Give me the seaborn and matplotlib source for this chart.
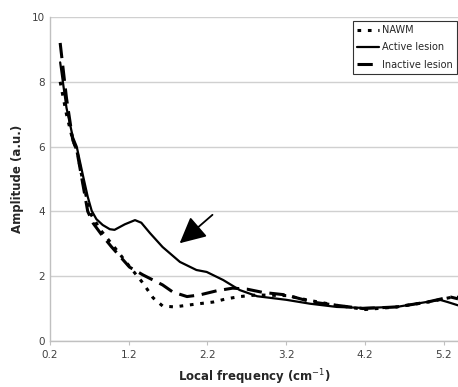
import matplotlib.pyplot as plt
import seaborn as sns
import numpy as np
import pandas as pd

# Values
nawm_x = [0.33, 0.41, 0.49, 0.54, 0.62, 0.71, 0.85, 1.0, 1.21, 1.38, 1.51, 1.63, 1.78,
          2.06, 2.27, 2.44, 2.61, 2.83, 3.2, 3.5, 3.84, 4.2, 4.6, 5.0, 5.3, 5.38]
nawm_y = [8.0, 7.0, 6.2, 5.9, 4.9, 3.95, 3.4, 2.95, 2.3, 1.79, 1.33, 1.08, 1.05,
          1.14, 1.2, 1.3, 1.37, 1.42, 1.4, 1.25, 1.1, 0.97, 1.05, 1.2, 1.35, 1.35]

active_x = [0.33, 0.41, 0.49, 0.54, 0.62, 0.68, 0.73, 0.79, 0.87, 0.96, 1.02, 1.15, 1.28,
            1.36, 1.47, 1.63, 1.85, 2.06, 2.19, 2.4, 2.61, 2.83, 3.2, 3.5, 3.84, 4.17,
            4.6, 4.9, 5.15, 5.25, 5.38]
active_y = [8.6, 7.2, 6.3, 6.0, 5.1, 4.45, 4.02, 3.76, 3.58, 3.45, 3.43, 3.6, 3.73,
            3.65, 3.33, 2.9, 2.44, 2.19, 2.13, 1.88, 1.57, 1.38, 1.27, 1.15, 1.05, 1.02,
            1.05, 1.17, 1.27, 1.2, 1.1]

inactive_x = [0.33, 0.41, 0.49, 0.54, 0.68, 0.75, 0.85, 0.98, 1.21, 1.38, 1.63, 1.76,
              1.94, 2.1, 2.32, 2.52, 2.7, 2.9, 3.2, 3.53, 3.84, 4.17, 4.6, 4.99, 5.28, 5.38]
inactive_y = [9.2, 7.5, 6.2, 5.9, 4.0, 3.63, 3.3, 2.91, 2.28, 2.04, 1.73, 1.51,
              1.37, 1.42, 1.55, 1.63, 1.6, 1.5, 1.42, 1.2, 1.1, 1.0, 1.05, 1.2, 1.36, 1.3]

x_ticks = [0.2, 1.2, 2.2, 3.2, 4.2, 5.2]
y_ticks = [0, 2, 4, 6, 8, 10]

sns.set_style("white")
plt.rcParams['font.family'] = ['DejaVu Sans']

fig = plt.figure(figsize=(4.58, 3.87), dpi=100)
ax = fig.add_axes([0.109, 0.119, 0.891, 0.837])

sns.lineplot(x=nawm_x, y=nawm_y, ax=ax, color='black', linewidth=2.2,
             label='NAWM', sort=False)
ax.lines[-1].set_dashes((1.2, 2.2))
sns.lineplot(x=active_x, y=active_y, ax=ax, color='black', linewidth=1.6,
             label='Active lesion', sort=False)
sns.lineplot(x=inactive_x, y=inactive_y, ax=ax, color='black', linewidth=2.2,
             label='Inactive lesion', sort=False)
ax.lines[-1].set_dashes((5, 2.5))

ax.set_xlim(0.2, 5.38)
ax.set_ylim(0, 10)
ax.set_xticks(x_ticks)
ax.set_xticklabels([f'{t:.1f}' for t in x_ticks])
ax.set_yticks(y_ticks)
ax.tick_params(axis='both', labelsize=7.5, colors='#404040')
ax.tick_params(axis='x', length=3, color='#c0c0c0', direction='out', bottom=True)
ax.tick_params(axis='y', length=0, left=False)
ax.yaxis.grid(True, color='#d0d0d0', linewidth=1)
ax.set_axisbelow(True)
for s in ['top', 'right']:
    ax.spines[s].set_visible(False)
for s in ['left', 'bottom']:
    ax.spines[s].set_color('#c0c0c0')
    ax.spines[s].set_linewidth(1)

ax.set_xlabel('Local frequency (cm$^{-1}$)', fontsize=8.5, fontweight='bold', labelpad=5)
ax.set_ylabel('Amplitude (a.u.)', fontsize=8.5, fontweight='bold', labelpad=6)

ax.annotate('', xy=(1.82, 2.96), xytext=(2.29, 3.95),
            arrowprops=dict(arrowstyle='-|>,head_length=1.6,head_width=0.8',
                            color='black', lw=1.3))

leg = ax.legend(loc='upper right', bbox_to_anchor=(1.0, 0.99), fontsize=7,
                frameon=True, fancybox=False, edgecolor='black', handlelength=2.2,
                handletextpad=0.4, borderpad=0.4, labelspacing=0.75, borderaxespad=0.1)
leg.get_frame().set_linewidth(0.8)

fig.savefig('out.png', dpi=100)
